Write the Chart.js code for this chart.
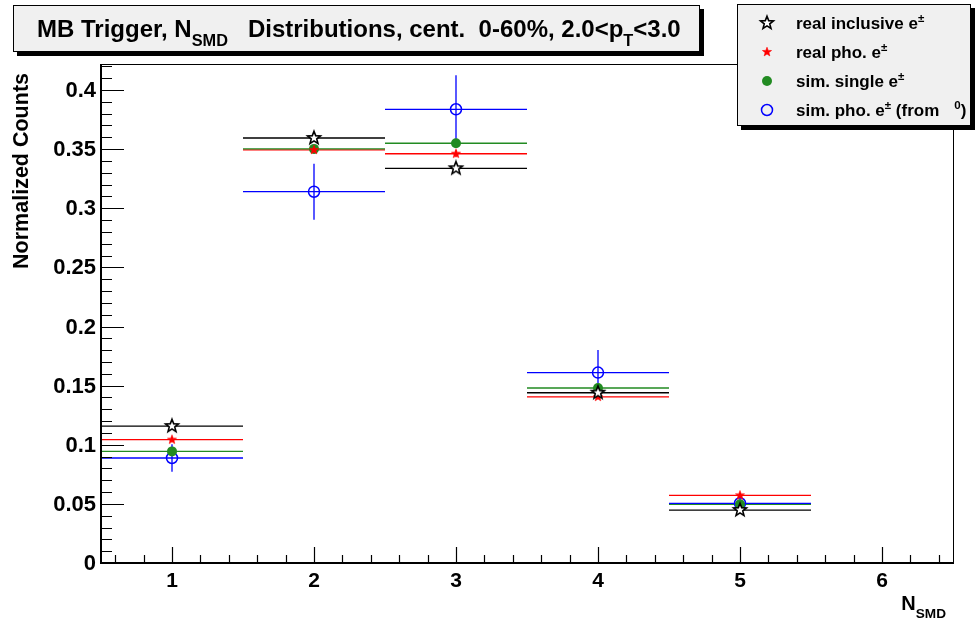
<!DOCTYPE html>
<html>
<head>
<meta charset="UTF-8">
<title>MB Trigger N_SMD Distributions</title>
<script src="https://cdn.jsdelivr.net/npm/chart.js@4.4.0/dist/chart.umd.min.js"></script>
<style>
    html, body { margin: 0; padding: 0; background: #ffffff; }
    #wrap { width: 975px; height: 620px; position: relative; }
</style>
</head>
<body>
<div id="wrap"><canvas id="c" width="975" height="620"></canvas></div>
<script>
// bin centres and half widths (N_SMD)
const nSmd = [1, 2, 3, 4, 5];
const binHalf = [0.5, 0.5, 0.5, 0.5, 0.5];

// series values
const realIncl = [0.1158, 0.3594, 0.3338, 0.1440, 0.0448];
const realInclErr = [0.002, 0.003, 0.003, 0.002, 0.002];
const realPho = [0.1043, 0.3493, 0.3461, 0.1405, 0.0572];
const realPhoErr = [0.002, 0.003, 0.003, 0.002, 0.002];
const simSingle = [0.0944, 0.3502, 0.3550, 0.1480, 0.0496];
const simSingleErr = [0.002, 0.003, 0.003, 0.002, 0.002];
const simPho = [0.0888, 0.3140, 0.3837, 0.1610, 0.0505];
const simPhoErr = [0.0117, 0.0237, 0.0288, 0.0192, 0.0080];

// axis ticks
const xTicks = [1, 2, 3, 4, 5, 6];
const xTickLabels = ['1', '2', '3', '4', '5', '6'];
const yTicks = [0, 0.05, 0.1, 0.15, 0.2, 0.25, 0.3, 0.35, 0.4];
const yTickLabels = ['0', '0.05', '0.1', '0.15', '0.2', '0.25', '0.3', '0.35', '0.4'];

const FONT = '"Liberation Sans", Arial, Helvetica, sans-serif';
const GREEN = '#228b22';

function starCanvas(rOut, rIn, fill, stroke, lw) {
    const s = Math.ceil(rOut * 2 + 4);
    const c = document.createElement('canvas');
    c.width = s; c.height = s;
    const g = c.getContext('2d');
    g.beginPath();
    for (let i = 0; i < 10; i++) {
        const r = i % 2 === 0 ? rOut : rIn;
        const a = -Math.PI / 2 + i * Math.PI / 5;
        const px = s / 2 + r * Math.cos(a), py = s / 2 + r * Math.sin(a);
        if (i === 0) g.moveTo(px, py); else g.lineTo(px, py);
    }
    g.closePath();
    if (fill) { g.fillStyle = fill; g.fill(); }
    if (stroke) { g.strokeStyle = stroke; g.lineWidth = lw; g.stroke(); }
    return c;
}
const openStar = starCanvas(6.8, 2.9, '#ffffff', '#000000', 1.6);
const redStar = starCanvas(4.8, 2.0, '#ff0000', '#ff0000', 0.6);

function pts(vals) {
    return vals.map((v, i) => ({ x: nSmd[i], y: v }));
}

const errs = [
    { ey: realInclErr, color: '#000000' },
    { ey: realPhoErr, color: '#ff0000' },
    { ey: simSingleErr, color: GREEN },
    { ey: simPhoErr, color: '#0000ff' }
];

function drawRich(ctx, x, y, parts, size, align) {
    // parts: {t, sub, sup}
    const segs = parts.map(p => {
        const sz = p.sub || p.sup ? size * 0.68 : size;
        ctx.font = 'bold ' + sz + 'px ' + FONT;
        return { t: p.t, sz: sz, w: ctx.measureText(p.t).width,
                 dy: p.sub ? size * 0.38 : (p.sup ? -size * 0.42 : 0), gap: p.gap || 0 };
    });
    let total = segs.reduce((a, s) => a + s.w + s.gap, 0);
    let cx = align === 'right' ? x - total : x;
    segs.forEach(s => {
        cx += s.gap;
        ctx.font = 'bold ' + s.sz + 'px ' + FONT;
        ctx.fillText(s.t, cx, y + s.dy);
        cx += s.w;
    });
    return total;
}

const rootStyle = {
    id: 'rootStyle',
    beforeDatasetsDraw(chart) {
        const ctx = chart.ctx;
        const xs = chart.scales.x, ys = chart.scales.y;
        ctx.save();
        errs.forEach((e, k) => {
            const vals = chart.data.datasets[k].data;
            ctx.strokeStyle = e.color;
            ctx.lineWidth = 1.3;
            vals.forEach((p, i) => {
                const px = xs.getPixelForValue(p.x), py = ys.getPixelForValue(p.y);
                ctx.beginPath();
                ctx.moveTo(xs.getPixelForValue(p.x - binHalf[i]), py);
                ctx.lineTo(xs.getPixelForValue(p.x + binHalf[i]), py);
                ctx.moveTo(px, ys.getPixelForValue(p.y - e.ey[i]));
                ctx.lineTo(px, ys.getPixelForValue(p.y + e.ey[i]));
                ctx.stroke();
            });
        });
        ctx.restore();
    },
    afterDraw(chart) {
        const ctx = chart.ctx;
        const a = chart.chartArea;
        const xs = chart.scales.x, ys = chart.scales.y;
        ctx.save();
        // frame
        ctx.strokeStyle = '#000000';
        ctx.lineWidth = 1;
        ctx.strokeRect(a.left + 0.5, a.top + 0.5, a.right - a.left, a.bottom - a.top);
        ctx.lineWidth = 2;
        ctx.beginPath();
        ctx.moveTo(a.left, a.top); ctx.lineTo(a.left, a.bottom); ctx.lineTo(a.right, a.bottom);
        ctx.stroke();

        // y ticks
        ctx.lineWidth = 1.2;
        ctx.beginPath();
        for (let v = 0; v <= ys.max + 1e-9; v += 0.01) {
            const py = Math.round(ys.getPixelForValue(v)) + 0.5;
            const major = Math.abs(v / 0.05 - Math.round(v / 0.05)) < 1e-6;
            ctx.moveTo(a.left, py); ctx.lineTo(a.left + (major ? 23 : 11), py);
        }
        // x ticks
        for (let v = 0.6; v <= xs.max + 1e-9; v += 0.2) {
            const px = Math.round(xs.getPixelForValue(v)) + 0.5;
            const major = Math.abs(v - Math.round(v)) < 1e-6;
            ctx.moveTo(px, a.bottom); ctx.lineTo(px, a.bottom - (major ? 16 : 8));
        }
        ctx.stroke();

        // tick labels
        ctx.fillStyle = '#000000';
        ctx.font = 'bold 22px ' + FONT;
        ctx.textAlign = 'right';
        ctx.textBaseline = 'middle';
        yTicks.forEach((v, i) => ctx.fillText(yTickLabels[i], a.left - 5, ys.getPixelForValue(v) + 1));
        ctx.textAlign = 'center';
        ctx.textBaseline = 'top';
        ctx.font = 'bold 21px ' + FONT;
        xTicks.forEach((v, i) => ctx.fillText(xTickLabels[i], xs.getPixelForValue(v), a.bottom + 8));

        // axis titles
        ctx.textAlign = 'left';
        ctx.textBaseline = 'alphabetic';
        drawRich(ctx, 946, 610, [{ t: 'N' }, { t: 'SMD', sub: true }], 20, 'right');
        ctx.save();
        ctx.translate(28, 73);
        ctx.rotate(-Math.PI / 2);
        ctx.font = 'bold 21.5px ' + FONT;
        ctx.textAlign = 'right';
        ctx.fillText('Normalized Counts', 0, 0);
        ctx.restore();

        // title box
        ctx.fillStyle = '#000000';
        ctx.fillRect(17, 9, 687, 47);
        ctx.fillStyle = '#f0f0f0';
        ctx.fillRect(13, 5, 687, 47);
        ctx.lineWidth = 1;
        ctx.strokeStyle = '#000000';
        ctx.strokeRect(13.5, 5.5, 686, 46);
        ctx.fillStyle = '#000000';
        ctx.textAlign = 'left';
        drawRich(ctx, 37, 37, [
            { t: 'MB Trigger, N' }, { t: 'SMD', sub: true },
            { t: 'Distributions, cent.  0-60%, 2.0<p', gap: 20 }, { t: 'T', sub: true }, { t: '<3.0' }
        ], 24, 'left');

        // legend box
        ctx.fillStyle = '#000000';
        ctx.fillRect(741, 8, 234, 122);
        ctx.fillStyle = '#f0f0f0';
        ctx.fillRect(737, 4, 234, 122);
        ctx.strokeRect(737.5, 4.5, 233, 121);
        const ly = [23, 52, 81, 110];
        const lx = 767;
        ctx.drawImage(openStar, lx - openStar.width / 2, ly[0] - openStar.height / 2);
        ctx.drawImage(redStar, lx - redStar.width / 2, ly[1] - redStar.height / 2);
        ctx.beginPath(); ctx.arc(lx, ly[2], 5, 0, Math.PI * 2); ctx.fillStyle = GREEN; ctx.fill();
        ctx.beginPath(); ctx.arc(lx, ly[3], 5.5, 0, Math.PI * 2);
        ctx.strokeStyle = '#0000ff'; ctx.lineWidth = 1.5; ctx.stroke();
        ctx.fillStyle = '#000000';
        const labels = [
            [{ t: 'real inclusive e' }, { t: '±', sup: true }],
            [{ t: 'real pho. e' }, { t: '±', sup: true }],
            [{ t: 'sim. single e' }, { t: '±', sup: true }],
            [{ t: 'sim. pho. e' }, { t: '±', sup: true }, { t: ' (from' }, { t: '0', sup: true, gap: 15 }, { t: ')' }]
        ];
        labels.forEach((p, i) => drawRich(ctx, 796, ly[i] + 6, p, 17, 'left'));
        ctx.restore();
    }
};

new Chart(document.getElementById('c'), {
    type: 'scatter',
    data: {
        datasets: [
            { label: 'real inclusive e±', data: pts(realIncl), pointStyle: openStar, pointRadius: 7 },
            { label: 'real pho. e±', data: pts(realPho), pointStyle: redStar, pointRadius: 5 },
            { label: 'sim. single e±', data: pts(simSingle), pointStyle: 'circle', pointRadius: 5,
              backgroundColor: GREEN, borderColor: GREEN, borderWidth: 0 },
            { label: 'sim. pho. e± (from π0)', data: pts(simPho), pointStyle: 'circle', pointRadius: 5.5,
              backgroundColor: 'rgba(0,0,0,0)', borderColor: '#0000ff', borderWidth: 1.5 }
        ]
    },
    options: {
        responsive: false,
        animation: false,
        layout: { padding: { left: 101, right: 22, top: 64, bottom: 57 } },
        scales: {
            x: { type: 'linear', min: 0.5, max: 6.5, display: false },
            y: { type: 'linear', min: 0, max: 0.422, display: false }
        },
        plugins: { legend: { display: false }, tooltip: { enabled: false } }
    },
    plugins: [rootStyle]
});
</script>
</body>
</html>
